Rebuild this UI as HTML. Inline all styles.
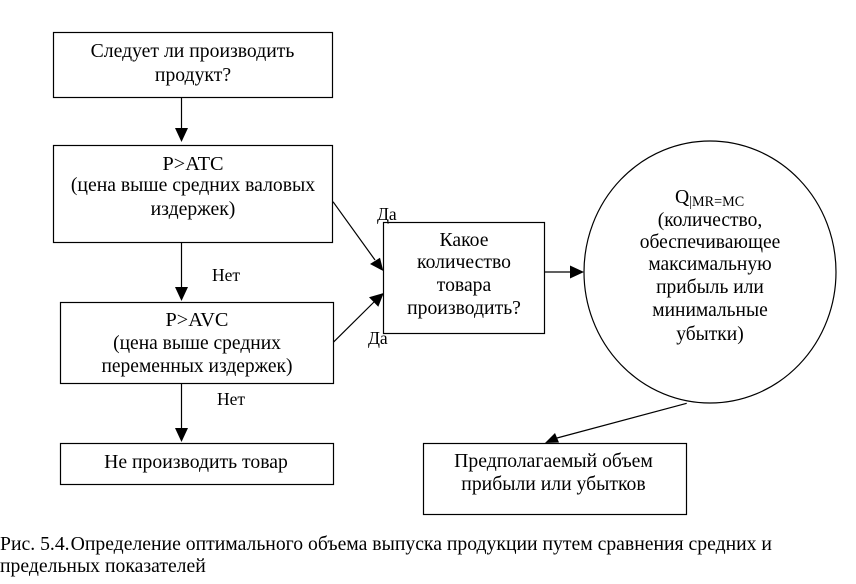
<!DOCTYPE html>
<html><head><meta charset="utf-8"><style>
html,body{margin:0;padding:0;background:#fff}
svg{display:block}
text{font-family:"Liberation Serif","Noto Serif CJK SC",serif;font-size:19.7px;fill:#000}
.c{text-anchor:middle}
.s{font-size:17.5px}
.l{font-size:20.3px}
.n{font-size:19.5px}
</style></head><body>
<svg width="856" height="584" viewBox="0 0 856 584" xmlns="http://www.w3.org/2000/svg">
<g fill="#fff" stroke="#000" stroke-width="1.2">
<rect x="53.5" y="32.5" width="279" height="65"/>
<rect x="53.5" y="145.5" width="279" height="97"/>
<rect x="60.5" y="302.5" width="273" height="81"/>
<rect x="60.5" y="443.5" width="273" height="41"/>
<rect x="383.5" y="222.5" width="161" height="111"/>
<rect x="423.5" y="443.5" width="263" height="71"/>
<ellipse cx="710" cy="272" rx="126" ry="131"/>
</g>
<g stroke="#000" stroke-width="1.2" fill="none">
<line x1="181.5" y1="98" x2="181.5" y2="130"/>
<line x1="181.5" y1="243" x2="181.5" y2="288"/>
<line x1="181.5" y1="384" x2="181.5" y2="430"/>
<line x1="333" y1="201.700" x2="375" y2="260"/>
<line x1="333.300" y1="342.300" x2="374" y2="302"/>
<line x1="545" y1="272" x2="572" y2="272"/>
<line x1="686.700" y1="403.300" x2="557" y2="438"/>
</g>
<g fill="#000">
<polygon points="181.5,142 175,128 188,128"/>
<polygon points="181.5,301 175,287 188,287"/>
<polygon points="181.5,442 175,428 188,428"/>
<polygon points="383.300,271 370,264 380,257.700"/>
<polygon points="383.700,293 378.300,306.700 369,297.300"/>
<polygon points="584,272 570,265.500 570,278.500"/>
<polygon points="545,443 555,433 559,442.500"/>
</g>
<text class="c" x="192.500" y="57">Следует ли производить</text>
<text class="c" x="193" y="81">продукт?</text>
<text class="c l" x="193" y="170">P&gt;ATC</text>
<text class="c" x="193" y="191">(цена выше средних валовых</text>
<text class="c" x="193" y="215">издержек)</text>
<text class="c l" x="197" y="326">P&gt;AVC</text>
<text class="c n" x="197" y="349">(цена выше средних</text>
<text class="c n" x="197" y="372">переменных издержек)</text>
<text class="c" x="196" y="468">Не производить товар</text>
<text class="c" x="464" y="246">Какое</text>
<text class="c" x="464" y="268">количество</text>
<text class="c" x="464" y="291">товара</text>
<text class="c" x="464" y="314">производить?</text>
<text x="675" y="203">Q<tspan font-size="14.200" dy="3">|MR=MC</tspan></text>
<text class="c n" x="710" y="226">(количество,</text>
<text class="c n" x="710" y="248">обеспечивающее</text>
<text class="c n" x="710" y="270">максимальную</text>
<text class="c n" x="710" y="293">прибыль или</text>
<text class="c n" x="710" y="316">минимальные</text>
<text class="c n" x="710" y="340">убытки)</text>
<text class="c" x="553.500" y="467">Предполагаемый объем</text>
<text class="c" x="553.500" y="490">прибыли или убытков</text>
<text class="s" x="212" y="281">Нет</text>
<text class="s" x="217" y="405">Нет</text>
<text class="s" x="377" y="220">Да</text>
<text class="s" x="368" y="344">Да</text>
<text x="0" y="550">Рис. 5.4.<tspan dx="1">Определение оптимального объема выпуска продукции путем сравнения средних и</tspan></text>
<text x="0" y="572">предельных показателей</text>
</svg>
</body></html>
